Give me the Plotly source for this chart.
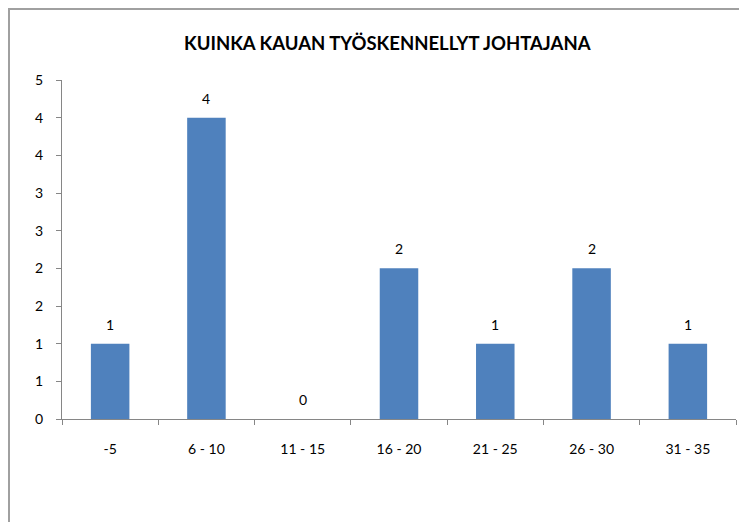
import plotly.graph_objects as go

categories = ["-5", "6 - 10", "11 - 15", "16 - 20", "21 - 25", "26 - 30", "31 - 35"]
values = [1, 4, 0, 2, 1, 2, 1]
ytick_vals = [0, 0.5, 1, 1.5, 2, 2.5, 3, 3.5, 4, 4.5]
ytick_text = ["0", "1", "1", "2", "2", "3", "3", "4", "4", "5"]
title = "KUINKA KAUAN TYÖSKENNELLYT JOHTAJANA"

# page body has an 8px margin, so the figure starts at (8, 8)
OFF = 8
W, H = 747 - OFF, 522 - OFF
L, R, T, B = 62 - OFF, 11, 80 - OFF, 103
PW, PH = W - L - R, H - T - B
FONT = "Lato, Calibri, sans-serif"

fig = go.Figure(go.Bar(
    x=categories, y=values,
    marker=dict(color="#4F81BD", line=dict(width=0)),
    hoverinfo="x+y",
    cliponaxis=False,
))

annotations = [dict(x=i, y=v, text=str(v), xref="x", yref="y", showarrow=False,
                    yanchor="bottom", yshift=9, font=dict(size=14, family=FONT, color="#000000"))
               for i, v in enumerate(values)]
annotations.append(dict(text="<b>" + title + "</b>", xref="paper", yref="paper",
                        x=(387 - OFF - L) / PW, y=1 + (T - (43 - OFF)) / PH,
                        xanchor="center", yanchor="middle", showarrow=False,
                        font=dict(size=18.5, family=FONT, color="#000000")))

fig.update_layout(
    width=W, height=H,
    margin=dict(l=L, r=R, t=T, b=B, autoexpand=False),
    paper_bgcolor="white", plot_bgcolor="white",
    bargap=0.6, showlegend=False,
    font=dict(family=FONT, size=14, color="#000000"),
    xaxis=dict(type="category", showgrid=False, showline=True, linecolor="#868686", linewidth=1,
               ticks="outside", tickson="boundaries", ticklen=5, tickcolor="#868686",
               ticklabelstandoff=17, automargin=False, tickfont=dict(size=14, family=FONT)),
    yaxis=dict(range=[0, 4.5], tickvals=ytick_vals, ticktext=ytick_text, showgrid=False,
               showline=True, linecolor="#868686", linewidth=1, ticks="outside", ticklen=5,
               tickcolor="#868686", zeroline=False, ticklabelstandoff=10, automargin=False,
               tickfont=dict(size=14, family=FONT)),
    annotations=annotations,
    shapes=[dict(type="rect", xref="paper", yref="paper",
                 x0=(9 - OFF - L) / PW, x1=(W + 20 - L) / PW,
                 y0=-(H + 20 - (H - B)) / PH, y1=1 + (T - (9 - OFF)) / PH,
                 line=dict(color="#A0A0A0", width=2), fillcolor="rgba(0,0,0,0)", layer="below")],
)

fig.write_html("out.html")
